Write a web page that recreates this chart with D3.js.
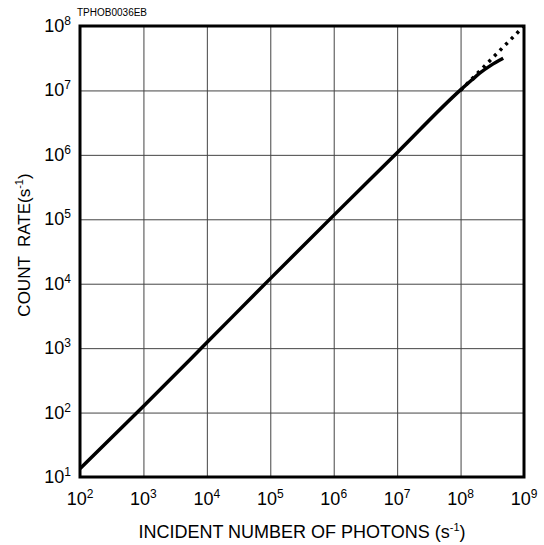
<!DOCTYPE html>
<html>
<head>
<meta charset="utf-8">
<script src="https://cdn.jsdelivr.net/npm/d3@7"></script>
<style>
  html, body { margin: 0; padding: 0; background: #fff; }
  svg { display: block; font-family: Arial, "Liberation Sans", Helvetica, sans-serif; }
</style>
</head>
<body>
<svg id="chart" width="544" height="545"></svg>
<script>
// Decade ticks (exponents) for both axes
const xExponents = [2, 3, 4, 5, 6, 7, 8, 9];
const yExponents = [1, 2, 3, 4, 5, 6, 7, 8];

// Measured response: incident photons (s^-1) vs. count rate (s^-1)
const incident = [1e2, 1e3, 1e4, 1e5, 1e6, 1e7, 1e8, 1.5e8, 2e8, 3e8, 4.7e8];
const countRate = [13.5, 125, 1.22e3, 1.2e4, 1.15e5, 1.08e6, 1.02e7, 1.45e7, 1.85e7, 2.45e7, 3.15e7];

// Ideal linear response (dotted) above 10^8
const idealIncident = [1e8, 1e9];
const idealRate = [1.0e7, 1.0e8];

const code = "TPHOB0036EB";
const xTitle = "INCIDENT NUMBER OF PHOTONS (s";
const yTitle = "COUNT  RATE(s";

const svg = d3.select("#chart");
const plotLeft = 80, plotRight = 524, plotTop = 26, plotBottom = 477;

const x = d3.scaleLog().domain([1e2, 1e9]).range([plotLeft, plotRight]);
const y = d3.scaleLog().domain([1e1, 1e8]).range([plotBottom, plotTop]);

// Grid lines
svg.append("g")
  .attr("transform", `translate(0,${plotBottom})`)
  .call(d3.axisBottom(x).tickValues(xExponents.map(e => Math.pow(10, e))).tickSize(-(plotBottom - plotTop)).tickFormat(""))
  .call(g => g.select(".domain").remove())
  .call(g => g.selectAll("line").attr("stroke", "#444").attr("stroke-width", 1));

svg.append("g")
  .attr("transform", `translate(${plotLeft},0)`)
  .call(d3.axisLeft(y).tickValues(yExponents.map(e => Math.pow(10, e))).tickSize(-(plotRight - plotLeft)).tickFormat(""))
  .call(g => g.select(".domain").remove())
  .call(g => g.selectAll("line").attr("stroke", "#444").attr("stroke-width", 1));

// Tick labels with superscript exponents
function powerLabel(sel, e) {
  sel.append("tspan").text("10");
  sel.append("tspan").attr("dy", -7).attr("font-size", 12).text(e);
}

svg.append("g").selectAll("text")
  .data(xExponents)
  .join("text")
  .attr("x", d => x(Math.pow(10, d)))
  .attr("y", 504.5)
  .attr("text-anchor", "middle")
  .attr("font-size", 18)
  .attr("fill", "#000")
  .each(function(d) { powerLabel(d3.select(this), d); });

svg.append("g").selectAll("text")
  .data(yExponents)
  .join("text")
  .attr("x", 71)
  .attr("y", d => y(Math.pow(10, d)) + 6)
  .attr("text-anchor", "end")
  .attr("font-size", 18)
  .attr("fill", "#000")
  .each(function(d) { powerLabel(d3.select(this), d); });

// Curves
const line = d3.line().x(d => x(d[0])).y(d => y(d[1]));

svg.append("path")
  .datum(idealIncident.map((v, i) => [v, idealRate[i]]))
  .attr("d", line)
  .attr("fill", "none")
  .attr("stroke", "#000")
  .attr("stroke-width", 3.5)
  .attr("stroke-dasharray", "3 5");

svg.append("path")
  .datum(incident.map((v, i) => [v, countRate[i]]))
  .attr("d", d3.line().curve(d3.curveMonotoneX).x(d => x(d[0])).y(d => y(d[1])))
  .attr("fill", "none")
  .attr("stroke", "#000")
  .attr("stroke-width", 3.5);

// Frame
svg.append("rect")
  .attr("x", plotLeft).attr("y", plotTop)
  .attr("width", plotRight - plotLeft).attr("height", plotBottom - plotTop)
  .attr("fill", "none").attr("stroke", "#000").attr("stroke-width", 3);

// Document code
svg.append("text")
  .attr("x", 77).attr("y", 15.5)
  .attr("font-size", 10)
  .text(code);

// Axis titles
const xt = svg.append("text")
  .attr("x", 302).attr("y", 538)
  .attr("text-anchor", "middle")
  .attr("font-size", 18);
xt.append("tspan").text(xTitle);
xt.append("tspan").attr("dy", -7).attr("font-size", 11).text("-1");
xt.append("tspan").attr("dy", 7).text(")");

const yt = svg.append("text")
  .attr("transform", "translate(30,245) rotate(-90)")
  .attr("text-anchor", "middle")
  .attr("font-size", 17)
  .style("white-space", "pre");
yt.append("tspan").text(yTitle);
yt.append("tspan").attr("dy", -7).attr("font-size", 11).text("-1");
yt.append("tspan").attr("dy", 7).text(")");
</script>
</body>
</html>
